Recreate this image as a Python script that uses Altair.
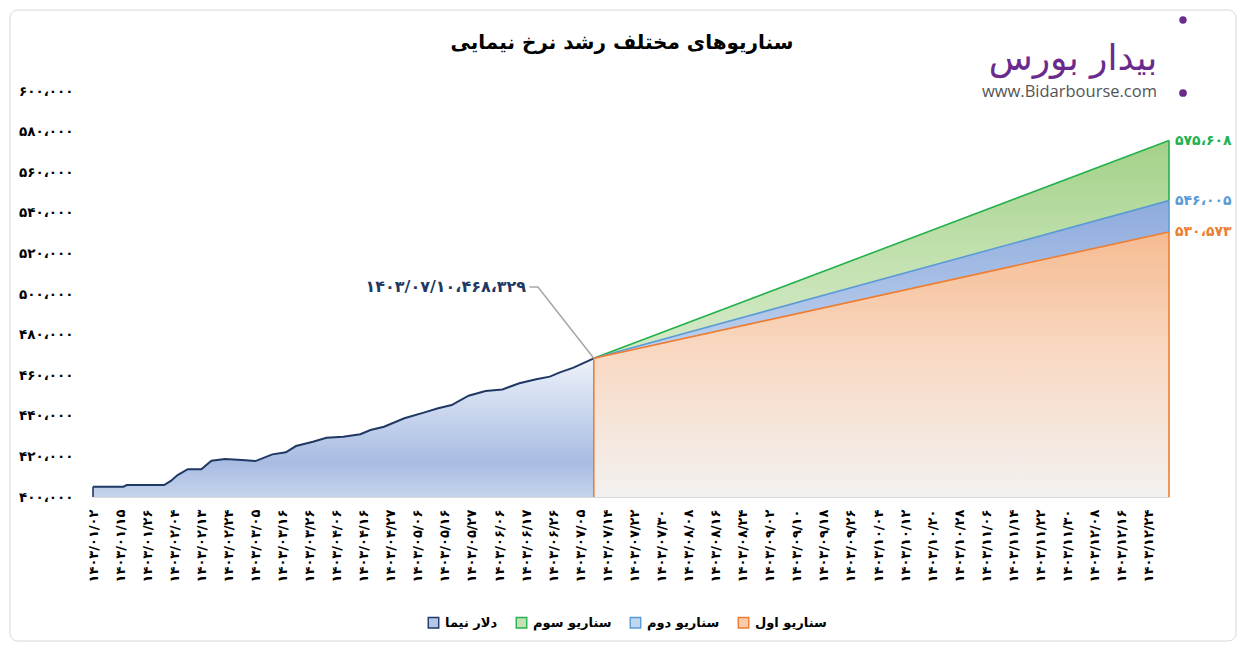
import json
import altair as alt
import pandas as pd

FA = str.maketrans("0123456789", "۰۱۲۳۴۵۶۷۸۹")


def fa(s):
    return str(s).translate(FA)


def fa_num(n):
    return f"{n:,}".replace(",", "،").translate(FA)


# ---------------- data ----------------
title_text = "سناریوهای مختلف رشد نرخ نیمایی"
logo_text = "بیدار بورس"
logo_url = "www.Bidarbourse.com"

series_names = ["دلار نیما", "سناریو سوم", "سناریو دوم", "سناریو اول"]
line_colors = ["#1f3864", "#22b14c", "#5b9bd5", "#ed7d31"]
legend_fills = ["#b4c6e7", "#c5e0b4", "#bdd7ee", "#f8cbad"]

date_labels = [
    "1403/01/02", "1403/01/15", "1403/01/26", "1403/02/04", "1403/02/13",
    "1403/02/24", "1403/03/05", "1403/03/16", "1403/03/26", "1403/04/06",
    "1403/04/16", "1403/04/27", "1403/05/06", "1403/05/16", "1403/05/27",
    "1403/06/06", "1403/06/17", "1403/06/26", "1403/07/05", "1403/07/14",
    "1403/07/22", "1403/07/30", "1403/08/08", "1403/08/16", "1403/08/24",
    "1403/09/02", "1403/09/10", "1403/09/18", "1403/09/26", "1403/10/04",
    "1403/10/12", "1403/10/20", "1403/10/28", "1403/11/06", "1403/11/14",
    "1403/11/22", "1403/11/30", "1403/12/08", "1403/12/16", "1403/12/24",
]
tick_step = 8

nima_idx = [0, 9, 10, 21, 23, 25, 28, 32, 35, 39, 44, 48, 53, 57, 60, 65, 69,
            74, 79, 82, 86, 92, 98, 102, 106, 111, 116, 121, 126, 131, 135,
            138, 142, 148]
nima_val = [405100, 405100, 405900, 405900, 407900, 410800, 413700, 413700,
            417900, 418700, 418200, 417700, 421000, 422000, 425100, 427200,
            429200, 429700, 430900, 433000, 434600, 438800, 441700, 443700,
            445300, 449900, 452200, 453000, 456000, 458000, 459300, 461400,
            463700, 468329]

split_date = "1403/07/10"
split_idx = 148
split_value = 468329
end_idx = 318
scenario_names = ["سناریو سوم", "سناریو دوم", "سناریو اول"]
scenario_end = [575608, 546005, 530573]

y_min, y_max, y_step = 400000, 600000, 20000
y_ticks = list(range(y_min, y_max + 1, y_step))

# annotation anchor (data coordinates)
ANNOT_IDX = 128
ANNOT_VAL = 503400

# ---------------- tables ----------------
x_ticks = [i * tick_step for i in range(len(date_labels))]
x_label_list = [fa(d) for d in date_labels]
y_label_list = [fa_num(v) for v in y_ticks]

nima_df = pd.DataFrame({"series": series_names[0], "idx": nima_idx, "value": nima_val})
scen_frames = {}
for name, end in zip(scenario_names, scenario_end):
    scen_frames[name] = pd.DataFrame({"series": name, "idx": [split_idx, end_idx],
                                      "value": [split_value, end]})
lines_df = pd.concat([scen_frames[n] for n in scenario_names], ignore_index=True)

# vertical border edges of the areas
ends_sorted = sorted(zip(scenario_end, scenario_names))
edge_rows = [{"series": series_names[0], "idx": nima_idx[0], "value": y_min, "hi": nima_val[0]},
             {"series": "سناریو اول", "idx": split_idx, "value": y_min, "hi": split_value}]
prev = y_min
for val, name in ends_sorted:
    edge_rows.append({"series": name, "idx": end_idx, "value": prev, "hi": val})
    prev = val
edges_df = pd.DataFrame(edge_rows)

end_labels_df = pd.DataFrame({"series": scenario_names, "idx": end_idx, "value": scenario_end,
                              "label": [fa_num(v) for v in scenario_end]})

annot_df = pd.DataFrame({"idx": [ANNOT_IDX], "value": [ANNOT_VAL],
                         "label": [fa(split_date) + "،" + fa_num(split_value)]})
leader_df = pd.DataFrame({"idx": [ANNOT_IDX + 1, ANNOT_IDX + 3.5, split_idx],
                          "value": [ANNOT_VAL, ANNOT_VAL, split_value], "o": [0, 1, 2]})

legend_df = pd.DataFrame({"series": series_names})
one = pd.DataFrame({"k": [0]})

# ---------------- encodings ----------------
FONT = "DejaVu Sans"
W, H = 1076, 406

X = alt.X("idx:Q",
          scale=alt.Scale(domain=[0, end_idx], nice=False, zero=False),
          axis=alt.Axis(values=x_ticks, title=None, grid=False, ticks=False,
                        domainColor="#d9d9d9", domainWidth=1.2,
                        labelAngle=-90, labelPadding=12, labelOverlap=False,
                        labelFlush=False, labelFont=FONT, labelFontSize=13,
                        labelFontWeight="bold", labelColor="#000000",
                        labelExpr=json.dumps(x_label_list, ensure_ascii=False)
                        + f"[round(datum.value/{tick_step})]"))
Y = alt.Y("value:Q",
          scale=alt.Scale(domain=[y_min, y_max], nice=False, zero=False),
          axis=alt.Axis(values=y_ticks, title=None, grid=False, ticks=False,
                        domain=False, labelPadding=20, labelFont=FONT,
                        labelFontSize=13.5, labelFontWeight="bold", labelColor="#000000",
                        labelExpr=json.dumps(y_label_list, ensure_ascii=False)
                        + f"[round((datum.value-{y_min})/{y_step})]"))
Y2 = alt.datum(y_min)

stroke_scale = alt.Scale(domain=series_names, range=line_colors)
fill_scale = alt.Scale(domain=series_names, range=legend_fills)


def grad(stops):
    return alt.Gradient(gradient="linear", x1=0, y1=0, x2=0, y2=1,
                        stops=[alt.GradientStop(offset=o, color=c) for o, c in stops])


area_styles = {
    "سناریو سوم": [(0, "#a3d188"), (0.35, "#c4e2b2"), (1, "#eef6ea")],
    "سناریو دوم": [(0, "#8eabdd"), (0.4, "#b3c8ea"), (1, "#eef2f9")],
    "سناریو اول": [(0, "#f5bb91"), (0.45, "#f9d8c2"), (1, "#f2f1f0")],
}


def legend_def():
    return alt.Legend(title=None, orient="none", legendX=334, legendY=525,
                      direction="horizontal", symbolType="square",
                      symbolSize=110, symbolStrokeWidth=1.4,
                      labelFont=FONT, labelFontSize=13,
                      labelFontWeight="bold", labelColor="#000000",
                      columnPadding=15, labelOffset=5, zindex=5)


def stroke_enc():
    return alt.Stroke("series:N", scale=stroke_scale, sort=series_names, legend=legend_def())


layers = []

# frame
layers.append(alt.Chart(one).mark_rect(fill="transparent", stroke="#d6d6d6", strokeWidth=1,
                                       cornerRadius=8).encode(
    x=alt.value(-83), x2=alt.value(W + 67), y=alt.value(-81), y2=alt.value(H + 144)))

for name in scenario_names:
    layers.append(alt.Chart(scen_frames[name]).mark_area(color=grad(area_styles[name])).encode(
        x=X, y=Y, y2=Y2))

layers.append(alt.Chart(nima_df).mark_area(
    color=grad([(0, "#eef2fa"), (0.75, "#a8bce2"), (1, "#c6d3ec")])).encode(x=X, y=Y, y2=Y2))

layers.append(alt.Chart(lines_df).mark_line(strokeWidth=1.6).encode(
    x=X, y=Y, detail="series:N", stroke=stroke_enc()))

layers.append(alt.Chart(nima_df).mark_line(strokeWidth=2, color=line_colors[0]).encode(x=X, y=Y))

layers.append(alt.Chart(edges_df).mark_rule(strokeWidth=1.6).encode(
    x=X, y=Y, y2="hi:Q", stroke=stroke_enc()))

# legend source: off-canvas squares with fill + stroke by series (merged legend)
layers.append(alt.Chart(legend_df).mark_square(filled=True, opacity=1, strokeWidth=1.4).encode(
    x=alt.value(-600), y=alt.value(-600),
    fill=alt.Fill("series:N", scale=fill_scale, sort=series_names, legend=legend_def()),
    stroke=stroke_enc()))

layers.append(alt.Chart(end_labels_df).mark_text(align="left", baseline="middle", dx=6,
                                                 font=FONT, fontSize=14, fontWeight="bold").encode(
    x=X, y=Y, text="label:N", color=alt.Color("series:N", scale=stroke_scale, legend=None)))

layers.append(alt.Chart(leader_df).mark_line(color="#a6a6a6", strokeWidth=1.5).encode(
    x=X, y=Y, order="o:Q"))
layers.append(alt.Chart(annot_df).mark_text(align="right", baseline="middle", font=FONT,
                                            fontSize=16, fontWeight="bold",
                                            color="#1f3864").encode(x=X, y=Y, text="label:N"))

# title and logo
layers.append(alt.Chart(one).mark_text(text=title_text, font=FONT, fontSize=20, fontWeight="bold",
                                       color="#000000", align="center", baseline="middle").encode(
    x=alt.value(529), y=alt.value(-48)))
layers.append(alt.Chart(one).mark_text(text=logo_text, font=FONT, fontSize=36,
                                       color="#6a2c8c", align="center", baseline="middle").encode(
    x=alt.value(980), y=alt.value(-32)))
layers.append(alt.Chart(one).mark_text(text=logo_url, font="Open Sans", fontSize=16.5,
                                       color="#555555", align="left", baseline="middle").encode(
    x=alt.value(889), y=alt.value(1)))
layers.append(alt.Chart(one).mark_point(filled=True, color="#6a2c8c", size=60, opacity=1).encode(
    x=alt.value(1090), y=alt.value(2)))
layers.append(alt.Chart(one).mark_point(filled=True, color="#6a2c8c", size=55, opacity=1).encode(
    x=alt.value(1090), y=alt.value(-71)))

chart = alt.layer(*layers).properties(
    width=W, height=H,
    autosize=alt.AutoSizeParams(type="none"),
    padding={"left": 85, "top": 83, "right": 68, "bottom": 146},
    background="white",
).configure_view(stroke=None)

chart.save("out.html", embed_options={"renderer": "svg", "actions": False})
